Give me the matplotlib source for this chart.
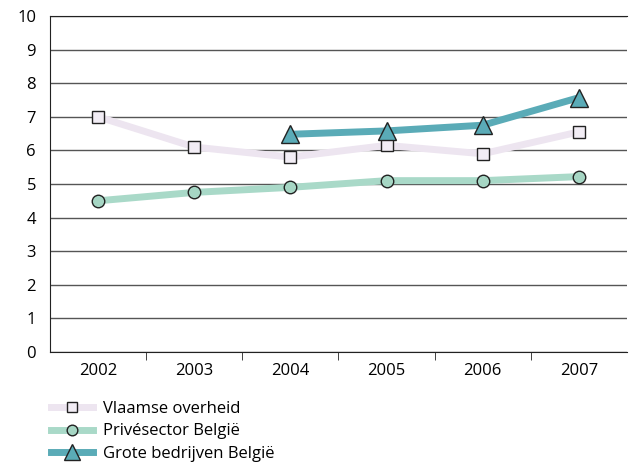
import matplotlib.pyplot as plt
import numpy as np

plt.rcParams['font.family'] = ['Open Sans', 'DejaVu Sans']

years = ["2002", "2003", "2004", "2005", "2006", "2007"]
vlaamse = [7.0, 6.1, 5.8, 6.15, 5.9, 6.55]
prive = [4.5, 4.75, 4.9, 5.1, 5.1, 5.22]
grote = [np.nan, np.nan, 6.48, 6.58, 6.75, 7.57]

fig = plt.figure(figsize=(6.3, 4.71), dpi=100)
ax = fig.add_axes([50 / 630, 1 - 352 / 471, 577 / 630, 336 / 471])

x = np.arange(len(years))
ax.plot(x, vlaamse, color="#ede5f0", lw=5, marker="s", ms=9, mfc="#f2edf5",
        mec="#222222", mew=1, label="Vlaamse overheid", zorder=3)
ax.plot(x, prive, color="#a9d9c8", lw=5, marker="o", ms=9, mfc="#a6d6c4",
        mec="#222222", mew=1, label="Privésector België", zorder=3)
ax.plot(x, grote, color="#5aabb7", lw=5, marker="^", ms=13, mfc="#5aabb7",
        mec="#222222", mew=1, label="Grote bedrijven België", zorder=4)

ax.set_xlim(-0.5, 5.5)
ax.set_ylim(0, 10)
ax.set_yticks(range(0, 11))
ax.set_xticks(x)
ax.set_xticklabels(years)
ax.set_xticks(np.arange(0.5, 5.5, 1), minor=True)
ax.tick_params(axis="x", which="major", length=0, pad=8, labelsize=12)
ax.tick_params(axis="x", which="minor", length=6, direction="out", color="#222222")
ax.tick_params(axis="y", length=0, pad=10, labelsize=12)
ax.yaxis.grid(True, color="#555555", lw=1)
ax.set_axisbelow(True)
ax.spines["right"].set_visible(False)
for s in ["left", "top", "bottom"]:
    ax.spines[s].set_color("#222222")

ax.legend(loc="upper left", bbox_to_anchor=(-0.01, -0.125), frameon=False,
          fontsize=12, handlelength=2.5, labelspacing=0.4, borderaxespad=0,
          handletextpad=0.6, markerscale=0.85)

fig.savefig("out.png", dpi=100)
